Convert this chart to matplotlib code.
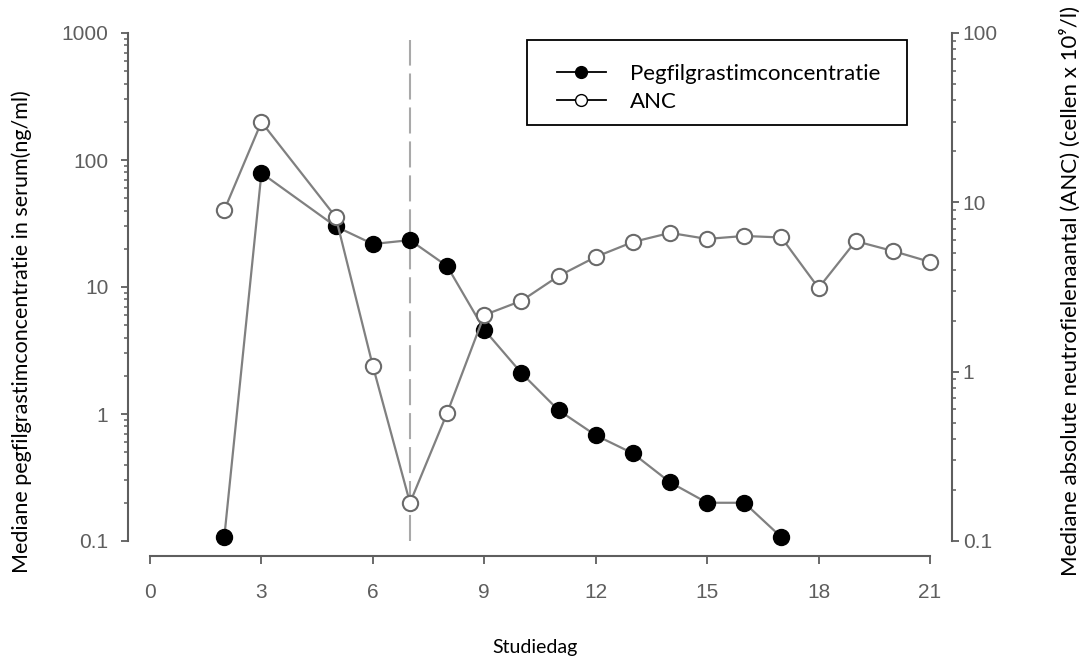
import matplotlib
matplotlib.use("Agg")
import matplotlib.pyplot as plt
from matplotlib.lines import Line2D
from matplotlib.patches import Rectangle
from matplotlib.ticker import FixedLocator, LogLocator, NullFormatter

# ---- data ----
days_peg = [2, 3, 5, 6, 7, 8, 9, 10, 11, 12, 13, 14, 15, 16, 17]
peg_conc = [0.107, 79, 30, 21.8, 23.4, 14.6, 4.6, 2.1, 1.07, 0.68, 0.49, 0.29, 0.20, 0.20, 0.107]
days_anc = [2, 3, 5, 6, 7, 8, 9, 10, 11, 12, 13, 14, 15, 16, 17, 18, 19, 20, 21]
anc_vals = [9.0, 29.8, 8.2, 1.08, 0.168, 0.57, 2.16, 2.62, 3.67, 4.76, 5.83, 6.6, 6.08, 6.33, 6.2, 3.12, 5.9, 5.16, 4.45]
x_ticks = [0, 3, 6, 9, 12, 15, 18, 21]
left_ticks = [0.1, 1, 10, 100, 1000]
left_ticklabels = ["0.1", "1", "10", "100", "1000"]
right_ticks = [0.1, 1, 10, 100]
right_ticklabels = ["0.1", "1", "10", "100"]
treatment_day = 7
series_names = ["Pegfilgrastimconcentratie", "ANC"]

TXT = ["Lato", "DejaVu Sans"]
TICKF = ["Liberation Sans", "DejaVu Sans"]
AXC = "#5e5e5e"
LINEC = "#808080"

W, H = 1086, 660
fig = plt.figure(figsize=(W / 100, H / 100), dpi=100)
ax = fig.add_axes([150 / W, 1 - 541 / H, 780 / W, 508 / H])
ax2 = ax.twinx()
ax.set_zorder(1)
ax2.set_zorder(2)
ax.patch.set_visible(False)
ax2.patch.set_visible(False)

# dashed vertical line
ax.axvline(treatment_day, ymin=0, ymax=0.987, color="#a9a9a9", lw=1.5,
           linestyle=(0, (12.5, 3.8)), zorder=1)

ax.plot(days_peg, peg_conc, color=LINEC, lw=1.6, marker="o", ms=11.5,
        mfc="black", mec="black", mew=1, clip_on=False, zorder=3)
ax2.plot(days_anc, anc_vals, color=LINEC, lw=1.6, marker="o", ms=11,
         mfc="white", mec="#6a6a6a", mew=1.5, clip_on=False, zorder=3)

for a in (ax, ax2):
    a.set_xlim(0, 21)
    a.spines["top"].set_visible(False)
    for s in a.spines.values():
        s.set_color(AXC)
        s.set_linewidth(1.5)

ax.set_yscale("log")
ax.set_ylim(0.1, 1000)
ax2.set_yscale("log")
ax2.set_ylim(0.1, 100)

ax.spines["left"].set_position(("outward", 16))
ax.spines["bottom"].set_position(("outward", 11))
ax.spines["right"].set_visible(False)
ax2.spines["right"].set_position(("outward", 15.5))
ax2.spines["left"].set_visible(False)
ax2.spines["bottom"].set_visible(False)

ax.set_xticks(x_ticks)
ax.set_xticklabels([str(v) for v in x_ticks])
ax.yaxis.set_major_locator(FixedLocator(left_ticks))
ax.set_yticklabels(left_ticklabels)
ax.yaxis.set_minor_locator(LogLocator(base=10, subs=range(2, 10)))
ax.yaxis.set_minor_formatter(NullFormatter())
ax2.yaxis.set_major_locator(FixedLocator(right_ticks))
ax2.set_yticklabels(right_ticklabels)
ax2.yaxis.set_minor_locator(LogLocator(base=10, subs=range(2, 10)))
ax2.yaxis.set_minor_formatter(NullFormatter())

ax.tick_params(axis="both", which="major", direction="out", length=5, width=1.3,
               color=AXC, labelcolor=AXC, labelsize=15)
ax.tick_params(axis="y", which="major", pad=9)
ax.tick_params(axis="x", which="major", length=6, pad=13)
ax.tick_params(axis="y", which="minor", direction="out", length=3, width=1.1, color=AXC)
ax2.tick_params(axis="y", which="major", direction="out", length=5, width=1.3,
                color=AXC, labelcolor=AXC, labelsize=15, pad=3)
ax2.tick_params(axis="y", which="minor", direction="out", length=3, width=1.1, color=AXC)
ax2.tick_params(axis="x", which="both", bottom=False, labelbottom=False)
for lab in ax.get_xticklabels() + ax.get_yticklabels() + ax2.get_yticklabels():
    lab.set_family(TICKF)

ax.spines["bottom"].set_bounds(0, 21)
ax.spines["left"].set_bounds(0.1, 1000)
ax2.spines["right"].set_bounds(0.1, 100)

# legend
rect = Rectangle((0.483, 0.819), 0.487, 0.167, transform=ax2.transAxes,
                 fill=True, facecolor="white", edgecolor="black", lw=1.3,
                 zorder=10, clip_on=False)
ax2.add_patch(rect)
handles = [
    Line2D([], [], color="black", lw=1.3, marker="o", ms=8.5, mfc="black", mec="black"),
    Line2D([], [], color="black", lw=1.3, marker="o", ms=8.5, mfc="white", mec="black"),
]
leg = ax2.legend(handles, series_names, loc="upper left",
                 bbox_to_anchor=(0.496, 0.978), frameon=False,
                 handlelength=2.2, handletextpad=1.08, labelspacing=0.35,
                 prop={"family": TXT, "size": 16})
leg.set_zorder(11)

# axis titles
fig.text(22 / W, 1 - 332 / H, "Mediane pegfilgrastimconcentratie in serum(ng/ml)",
         rotation=90, ha="center", va="center", fontsize=15.5, family=TXT)
fig.text(1070 / W, 1 - 291 / H, "Mediane absolute neutrofielenaantal (ANC) (cellen x 10\u2079/l)",
         rotation=90, ha="center", va="center", fontsize=16, family=TXT)
fig.text(535 / W, 1 - 648 / H, "Studiedag", ha="center", va="center",
         fontsize=14, family=TXT)

fig.savefig("out.png", dpi=100)
